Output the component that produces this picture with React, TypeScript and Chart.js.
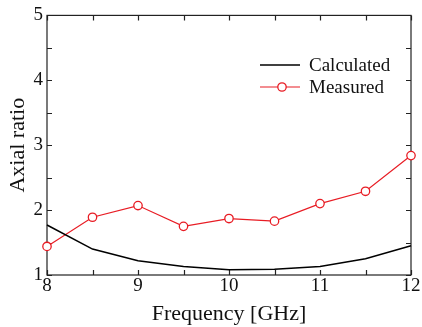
import React, { useEffect, useRef } from 'react';
import { Chart, registerables } from 'chart.js';

Chart.register(...registerables);

const frequencies = [8, 8.5, 9, 9.5, 10, 10.5, 11, 11.5, 12];
const calculated = [1.77, 1.40, 1.22, 1.13, 1.08, 1.09, 1.13, 1.25, 1.45];
const measured = [1.44, 1.89, 2.07, 1.75, 1.87, 1.83, 2.10, 2.29, 2.84];
const xTickLabels = [8, 9, 10, 11, 12];
const yTickLabels = [1, 2, 3, 4, 5];
const seriesNames = ['Calculated', 'Measured'];

const RED = 'rgb(232,28,36)';
const FONT = "'Liberation Serif', 'Times New Roman', serif";

const frameTicksPlugin = {
  id: 'frameTicks',
  beforeDatasetsDraw(chart: any) {
    const { ctx, chartArea } = chart;
    const { left, right, top, bottom } = chartArea;
    const xs = chart.scales.x;
    const ys = chart.scales.y;
    const len = 5;
    ctx.save();
    ctx.strokeStyle = '#222';
    ctx.lineWidth = 1.2;
    ctx.strokeRect(left, top, right - left, bottom - top);
    ctx.beginPath();
    xs.ticks.forEach((t: any) => {
      const px = Math.round(xs.getPixelForValue(t.value)) + 0.5;
      ctx.moveTo(px, bottom);
      ctx.lineTo(px, bottom - len);
      ctx.moveTo(px, top);
      ctx.lineTo(px, top + len);
    });
    ys.ticks.forEach((t: any) => {
      const py = Math.round(ys.getPixelForValue(t.value)) + 0.5;
      ctx.moveTo(left, py);
      ctx.lineTo(left + len, py);
      ctx.moveTo(right, py);
      ctx.lineTo(right - len, py);
    });
    ctx.stroke();
    ctx.restore();
  },
};

const legendPlugin = {
  id: 'customLegend',
  afterDraw(chart: any) {
    const { ctx } = chart;
    const x0 = 260;
    const x1 = 300;
    const rows = [65, 87];
    ctx.save();
    chart.data.datasets.forEach((ds: any, i: number) => {
      const y = rows[i];
      ctx.strokeStyle = ds.borderColor;
      ctx.lineWidth = ds.borderWidth;
      ctx.beginPath();
      ctx.moveTo(x0, y);
      ctx.lineTo(x1, y);
      ctx.stroke();
      if (ds.pointRadius > 0) {
        ctx.beginPath();
        ctx.arc((x0 + x1) / 2 + 2, y, ds.pointRadius, 0, Math.PI * 2);
        ctx.fillStyle = ds.pointBackgroundColor;
        ctx.fill();
        ctx.lineWidth = ds.pointBorderWidth;
        ctx.strokeStyle = ds.pointBorderColor;
        ctx.stroke();
      }
      ctx.fillStyle = '#111';
      ctx.font = `19px ${FONT}`;
      ctx.textAlign = 'left';
      ctx.textBaseline = 'middle';
      ctx.fillText(ds.label, 309, y + 1);
    });
    ctx.restore();
  },
};

export default function App() {
  const canvasRef = useRef<HTMLCanvasElement | null>(null);

  useEffect(() => {
    document.body.style.margin = '0';
    const canvas = canvasRef.current;
    if (!canvas) return;
    Chart.defaults.font.family = FONT;
    Chart.defaults.color = '#111';
    const chart = new Chart(canvas, {
      type: 'line',
      data: {
        datasets: [
          {
            label: seriesNames[0],
            data: frequencies.map((f, i) => ({ x: f, y: calculated[i] })),
            borderColor: '#000',
            borderWidth: 1.5,
            pointRadius: 0,
            pointBackgroundColor: '#fff',
            pointBorderColor: '#000',
            pointBorderWidth: 1.2,
            tension: 0,
            clip: false as any,
          },
          {
            label: seriesNames[1],
            data: frequencies.map((f, i) => ({ x: f, y: measured[i] })),
            borderColor: RED,
            borderWidth: 1.2,
            pointRadius: 4.2,
            pointBackgroundColor: '#fff',
            pointBorderColor: RED,
            pointBorderWidth: 1.3,
            tension: 0,
            clip: false as any,
          },
        ],
      },
      options: {
        animation: false,
        responsive: false,
        maintainAspectRatio: false,
        layout: { padding: { left: 0, right: 11, top: 15, bottom: 0 } },
        plugins: {
          legend: { display: false },
          tooltip: { enabled: false },
        },
        scales: {
          x: {
            type: 'linear',
            min: 8,
            max: 12,
            grid: { display: false, drawTicks: false },
            border: { display: false },
            afterFit(scale: any) {
              scale.height = 52;
            },
            ticks: {
              stepSize: 0.5,
              autoSkip: false,
              maxRotation: 0,
              padding: 0,
              font: { size: 19 },
              color: '#111',
              callback: (v: any) => (xTickLabels.includes(Number(v)) ? String(v) : ''),
            },
            title: {
              display: true,
              text: 'Frequency [GHz]',
              font: { size: 22 },
              color: '#111',
              padding: { top: 0, bottom: 0 },
            },
          },
          y: {
            type: 'linear',
            min: 1,
            max: 5,
            grid: { display: false, drawTicks: false },
            border: { display: false },
            afterFit(scale: any) {
              scale.width = 47;
            },
            ticks: {
              stepSize: 0.5,
              autoSkip: false,
              padding: 4,
              font: { size: 19 },
              color: '#111',
              callback: (v: any) => (yTickLabels.includes(Number(v)) ? String(v) : ''),
            },
            title: {
              display: true,
              text: 'Axial ratio',
              font: { size: 22 },
              color: '#111',
              padding: { top: 5, bottom: 0 },
            },
          },
        },
      },
      plugins: [frameTicksPlugin, legendPlugin],
    });
    return () => chart.destroy();
  }, []);

  return (
    <div style={{ width: 422, height: 327 }}>
      <canvas ref={canvasRef} width={422} height={327} style={{ display: 'block' }} />
    </div>
  );
}
